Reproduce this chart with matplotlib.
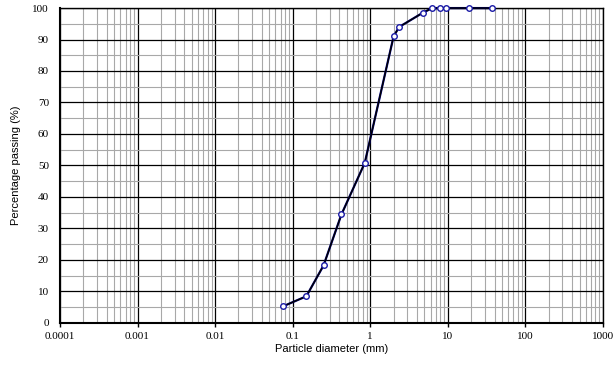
import numpy as np
import matplotlib.pyplot as plt
from matplotlib.ticker import LogLocator, FuncFormatter, MultipleLocator

# sieve sizes (mm) and percentage passing
diameter = [0.075, 0.15, 0.25, 0.425, 0.85, 2.0, 2.36, 4.75, 6.3, 8.0, 9.5, 19.0, 37.5]
passing = [5.2, 8.4, 18.2, 34.4, 50.8, 91.0, 94.0, 98.5, 100, 100, 100, 100, 100]

fig = plt.figure(figsize=(6.14, 3.67), dpi=100)
ax = fig.add_axes([0.0977, 0.1207, 0.8843, 0.8573])

ax.plot(diameter, passing, color="navy", lw=1.6, zorder=3, clip_on=False)
ax.plot(diameter, passing, color="black", lw=1.0, zorder=4, clip_on=False)
ax.plot(diameter, passing, "o", ms=4, mfc="white", mec="#1a1aa6", mew=1.0,
        zorder=5, clip_on=False)

ax.set_xscale("log")
ax.set_xlim(0.0001, 1000)
ax.set_ylim(0, 100)

ax.xaxis.set_major_locator(LogLocator(base=10, numticks=20))
ax.xaxis.set_minor_locator(LogLocator(base=10, subs=np.arange(2, 10), numticks=20))
ax.xaxis.set_major_formatter(FuncFormatter(lambda v, p: "%g" % v))
ax.yaxis.set_major_locator(MultipleLocator(10))
ax.yaxis.set_minor_locator(MultipleLocator(5))

ax.grid(which="major", color="black", lw=0.9)
ax.grid(which="minor", color="#a8a8a8", lw=0.8)
ax.set_axisbelow(True)

for s in ax.spines.values():
    s.set_color("black")
    s.set_linewidth(1.0)
ax.spines["left"].set_linewidth(1.5)
ax.spines["bottom"].set_linewidth(1.5)

ax.tick_params(axis="x", which="major", length=3, width=1, direction="out", pad=4)
ax.tick_params(axis="x", which="minor", length=0)
ax.tick_params(axis="y", which="both", length=0, pad=8)
for lab in ax.get_xticklabels() + ax.get_yticklabels():
    lab.set_fontfamily("Liberation Serif")
    lab.set_fontsize(8)

ax.set_xlabel("Particle diameter (mm)", family="Liberation Sans", fontsize=8, labelpad=2)
ax.set_ylabel("Percentage passing (%)", family="Liberation Sans", fontsize=8, labelpad=8)

fig.savefig("out.png", dpi=100)
